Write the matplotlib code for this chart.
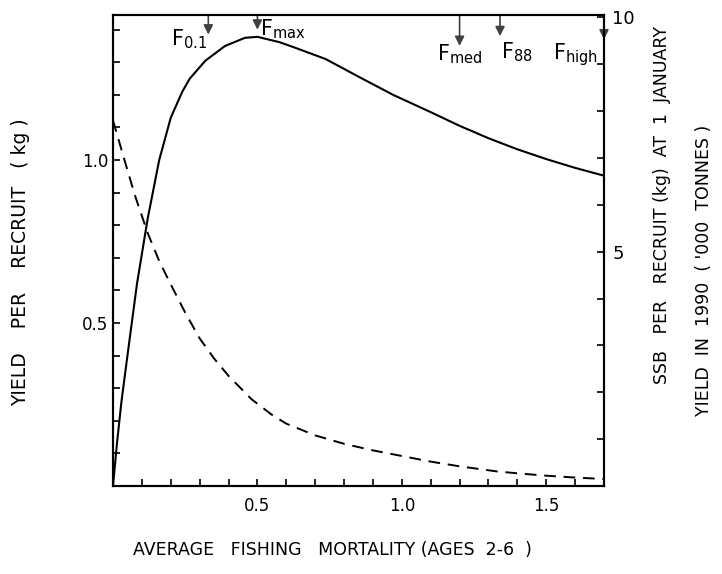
import matplotlib
matplotlib.use('Agg')
import matplotlib.pyplot as plt
from matplotlib.ticker import MultipleLocator

plt.rcParams['font.family'] = ['DejaVu Sans']
plt.rcParams['mathtext.fontset'] = 'dejavusans'

# yield per recruit (kg), left axis
f_ypr = [0, 0.014, 0.029, 0.05, 0.083, 0.12, 0.16, 0.2, 0.24, 0.266, 0.32, 0.388,
         0.457, 0.5, 0.575, 0.62, 0.736, 0.856, 0.97, 1.1, 1.2, 1.3, 1.4, 1.5, 1.6, 1.7]
ypr = [0, 0.133, 0.257, 0.40, 0.62, 0.82, 1.0, 1.13, 1.21, 1.25, 1.305, 1.35,
       1.375, 1.378, 1.362, 1.348, 1.31, 1.253, 1.2, 1.147, 1.105, 1.067, 1.033,
       1.003, 0.976, 0.952]

# SSB per recruit (kg) at 1 January, right axis
f_ssb = [0, 0.04, 0.076, 0.12, 0.16, 0.2, 0.25, 0.3, 0.35, 0.4, 0.48, 0.55, 0.6,
         0.7, 0.8, 0.9, 1.0, 1.1, 1.2, 1.33, 1.42, 1.5, 1.6, 1.7]
ssb = [7.8, 6.95, 6.2, 5.4, 4.8, 4.3, 3.7, 3.15, 2.72, 2.35, 1.85, 1.52, 1.33,
       1.08, 0.90, 0.76, 0.64, 0.52, 0.42, 0.31, 0.26, 0.22, 0.18, 0.15]

# reference points marked by arrows
ref_names = [r'$\mathregular{F_{0.1}}$', r'$\mathregular{F_{max}}$',
             r'$\mathregular{F_{med}}$', r'$\mathregular{F_{88}}$',
             r'$\mathregular{F_{high}}$']
ref_f = [0.33, 0.5, 1.20, 1.34, 1.70]
ref_tip = [1.385, 1.40, 1.35, 1.38, 1.37]

x_ticks = [0.5, 1.0, 1.5]
y_ticks = [0.5, 1.0]
y2_ticks = [5, 10]

fig = plt.figure(figsize=(7.22, 5.74), dpi=100)
ax = fig.add_axes([113 / 722, 88 / 574, 491 / 722, 471 / 574])
ax2 = ax.twinx()

ax.plot(f_ypr, ypr, color='black', lw=1.5)
ax2.plot(f_ssb, ssb, color='black', lw=1.4, dashes=(6, 4))

ax.set_xlim(0, 1.7)
ax.set_ylim(0, 1.445)
ax2.set_ylim(0, 10.05)

for s in ax.spines.values():
    s.set_linewidth(1.5)
for s in ax2.spines.values():
    s.set_linewidth(1.5)

ax.set_xticks(x_ticks)
ax.set_xticklabels(['0.5', '1.0', '1.5'], fontsize=12)
ax.xaxis.set_minor_locator(MultipleLocator(0.1))
ax.set_yticks(y_ticks)
ax.set_yticklabels(['0.5', '1.0'], fontsize=12)
ax.yaxis.set_minor_locator(MultipleLocator(0.1))
ax.tick_params(which='both', direction='in', length=5, width=1.2, top=False, right=False)
ax.tick_params(axis='x', pad=8)

ax2.set_yticks(y2_ticks)
ax2.set_yticklabels(['5', '10'], fontsize=13)
ax2.yaxis.set_minor_locator(MultipleLocator(1))
ax2.tick_params(which='both', direction='in', length=5, width=1.2, pad=6)

# arrows from the top frame
for f, tip in zip(ref_f, ref_tip):
    ax.annotate('', xy=(f, tip), xytext=(f, 1.445),
                arrowprops=dict(arrowstyle='-|>', color='#404040', lw=1.2,
                                mutation_scale=14, shrinkA=0, shrinkB=0))

ax.text(0.325, 1.37, ref_names[0], ha='right', va='center', fontsize=15)
ax.text(0.51, 1.40, ref_names[1], ha='left', va='center', fontsize=15)
ax.text(1.20, 1.325, ref_names[2], ha='center', va='center', fontsize=15)
ax.text(1.345, 1.33, ref_names[3], ha='left', va='center', fontsize=15)
ax.text(1.68, 1.325, ref_names[4], ha='right', va='center', fontsize=15)

fig.text(332 / 722, 1 - 550 / 574, 'AVERAGE   FISHING   MORTALITY (AGES  2-6  )',
         ha='center', va='center', fontsize=12.5)
fig.text(21 / 722, 1 - 262 / 574, 'YIELD    PER    RECRUIT   ( kg )',
         ha='center', va='center', rotation=90, fontsize=13.5)
fig.text(662 / 722, 1 - 205 / 574, 'SSB   PER   RECRUIT (kg)  AT  1  JANUARY',
         ha='center', va='center', rotation=90, fontsize=12.5)
fig.text(704 / 722, 1 - 270 / 574, "YIELD  IN  1990  ( '000  TONNES )",
         ha='center', va='center', rotation=90, fontsize=12.5)

fig.savefig('out.png', dpi=100)
